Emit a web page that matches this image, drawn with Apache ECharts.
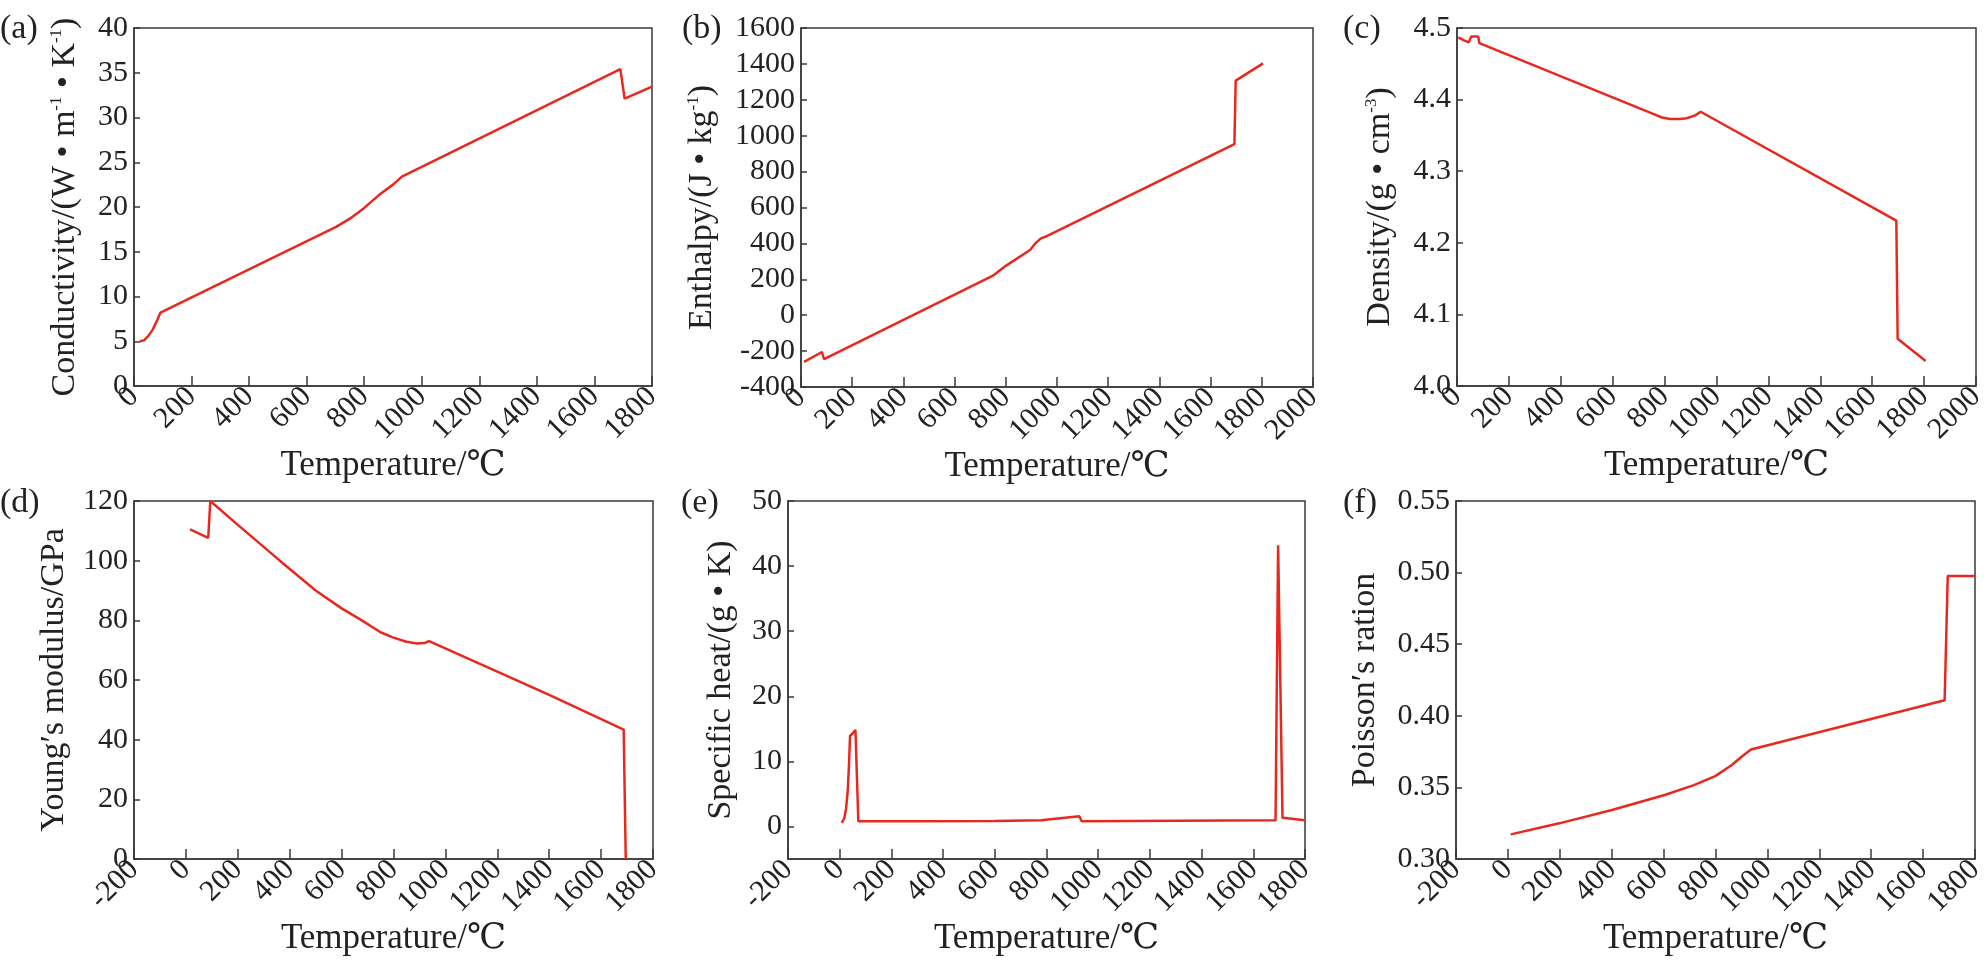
<!DOCTYPE html>
<html><head><meta charset="utf-8">
<script src="https://cdn.jsdelivr.net/npm/echarts@6/dist/echarts.min.js"></script>
<style>html,body{margin:0;padding:0;background:#fff}#c{width:1988px;height:962px}</style>
</head><body><div id="c"></div>
<script>
// (a) thermal conductivity
const tempA = [20, 35, 50, 65, 80, 92, 704, 750, 800, 850, 900, 931, 1690, 1705, 1800];
const condA = [5.0, 5.1, 5.6, 6.3, 7.3, 8.2, 17.8, 18.7, 19.9, 21.3, 22.5, 23.4, 35.4, 32.1, 33.45];
// (b) enthalpy
const tempB = [12, 82, 90, 748, 800, 896, 915, 937, 960, 1693, 1698, 1805];
const enthB = [-260, -205, -245, 219, 275, 365, 400, 428, 440, 953, 1307, 1403];
// (c) density
const tempC = [5, 25, 45, 55, 82, 86, 756, 790, 821, 860, 885, 918, 939, 1693, 1698, 1806];
const densC = [4.487, 4.483, 4.480, 4.488, 4.488, 4.479, 4.380, 4.375, 4.373, 4.373, 4.374, 4.378, 4.383, 4.231, 4.066, 4.035];
// (d) Young's modulus
const tempD = [16, 86, 94, 200, 362, 500, 600, 678, 750, 800, 850, 890, 920, 937, 1200, 1400, 1687, 1695];
const modD = [110.5, 107.6, 120, 112, 100, 90, 84, 80, 76, 74.2, 72.8, 72.2, 72.4, 73, 62.8, 55, 43.4, 0];
// (e) specific heat
const tempE = [8, 18, 25, 31, 36, 40, 50, 61, 72, 300, 600, 779, 927, 936, 1686, 1696, 1713, 1799];
const heatE = [0.56, 1.3, 2.8, 5.5, 9.5, 13.9, 14.3, 14.8, 0.8, 0.8, 0.85, 0.97, 1.58, 0.8, 0.97, 43.2, 1.32, 0.97];
// (f) Poisson's ratio
const tempF = [11, 198, 401, 604, 717, 799, 863, 904, 937, 1683, 1695, 1800];
const poisF = [0.3172, 0.3249, 0.3342, 0.3447, 0.3516, 0.3579, 0.3656, 0.3719, 0.3765, 0.4109, 0.4977, 0.4977];

const panelLabels = ['(a)', '(b)', '(c)', '(d)', '(e)', '(f)'];
const xName = 'Temperature/℃';
const yNames = [
  'Conductivity/(W • m{sup|-1} • K{sup|-1})',
  'Enthalpy/(J • kg{sup|-1})',
  'Density/(g • cm{sup|-3})',
  'Young′s modulus/GPa',
  'Specific heat/(g • K)',
  'Poisson′s ration'
];

const FONT = "'Liberation Serif', 'DejaVu Serif', serif";
const RED = '#e8281e';
const INK = '#222';
const FRAME = '#3a3a3a';

const grids = [
  {left: 134, top: 28, width: 518, height: 358},
  {left: 801, top: 28, width: 512, height: 359},
  {left: 1457, top: 28, width: 519, height: 358},
  {left: 134, top: 501, width: 519, height: 358},
  {left: 788, top: 501, width: 517, height: 358},
  {left: 1456, top: 501, width: 519, height: 358}
];
const xRanges = [[0, 1800], [0, 2000], [0, 2000], [-200, 1800], [-200, 1800], [-200, 1800]];
const yRanges = [[0, 40, 5], [-400, 1600, 200], [4.0, 4.5, 0.1], [0, 120, 20], [-5, 50, null], [0.30, 0.55, 0.05]];
const yDecimals = [0, 0, 1, 0, 0, 2];
const yGaps = [52, 82, 60, 63, 50, 74];
const xGaps = [62, 62, 62, 62, 62, 62];
const labelPos = [[0, 12], [682, 12], [1343, 12], [0, 486], [681, 486], [1343, 486]];

const xs = [tempA, tempB, tempC, tempD, tempE, tempF];
const ys = [condA, enthB, densC, modD, heatE, poisF];

const option = {
  backgroundColor: '#fff',
  animation: false,
  textStyle: {fontFamily: FONT},
  title: panelLabels.map((t, i) => ({
    text: t, left: labelPos[i][0], top: labelPos[i][1], padding: 0,
    textStyle: {fontSize: 34, fontWeight: 'normal', color: INK, fontFamily: FONT}
  })),
  grid: grids.map(g => Object.assign({
    containLabel: false, outerBoundsMode: 'none',
    show: true, borderColor: FRAME, borderWidth: 1.5, backgroundColor: 'transparent'
  }, g)),
  xAxis: grids.map((g, i) => ({
    type: 'value', gridIndex: i,
    min: xRanges[i][0], max: xRanges[i][1], interval: 200,
    name: xName, nameLocation: 'middle', nameGap: xGaps[i],
    nameTextStyle: {fontSize: 35, color: INK, fontFamily: FONT},
    axisLine: {show: true, onZero: false, lineStyle: {color: FRAME, width: 1.5}},
    axisTick: {show: true, inside: true, length: 10, lineStyle: {color: FRAME, width: 1.5}},
    axisLabel: {rotate: 45, fontSize: 30, color: INK, margin: 6, fontFamily: FONT,
      showMinLabel: true, showMaxLabel: true, hideOverlap: false,
      formatter: (v) => String(v)},
    splitLine: {show: false}
  })),
  yAxis: grids.map((g, i) => {
    const ax = {
      type: 'value', gridIndex: i,
      min: yRanges[i][0], max: yRanges[i][1],
      name: yNames[i], nameLocation: 'middle', nameGap: yGaps[i], nameRotate: 90,
      nameTextStyle: {fontSize: 34, color: INK, fontFamily: FONT,
        rich: {sup: {fontSize: 17, verticalAlign: 'top', color: INK, fontFamily: FONT}}},
      axisLine: {show: true, onZero: false, lineStyle: {color: FRAME, width: 1.5}},
      axisTick: {show: true, inside: true, length: 6, lineStyle: {color: FRAME, width: 1.5}},
      axisLabel: {fontSize: 30, color: INK, margin: 6, fontFamily: FONT,
        showMinLabel: i !== 4, showMaxLabel: true, hideOverlap: false,
        formatter: (v) => v.toFixed(yDecimals[i])},
      splitLine: {show: false}
    };
    if (yRanges[i][2] !== null) ax.interval = yRanges[i][2];
    else ax.splitNumber = 5;
    return ax;
  }),
  series: xs.map((xv, i) => ({
    type: 'line', xAxisIndex: i, yAxisIndex: i,
    data: xv.map((x, j) => [x, ys[i][j]]),
    showSymbol: false, symbol: 'none',
    lineStyle: {color: RED, width: 2.5},
    clip: true
  }))
};

const chart = echarts.init(document.getElementById('c'), null, {renderer: 'canvas'});
chart.setOption(option);
</script>
</body></html>
